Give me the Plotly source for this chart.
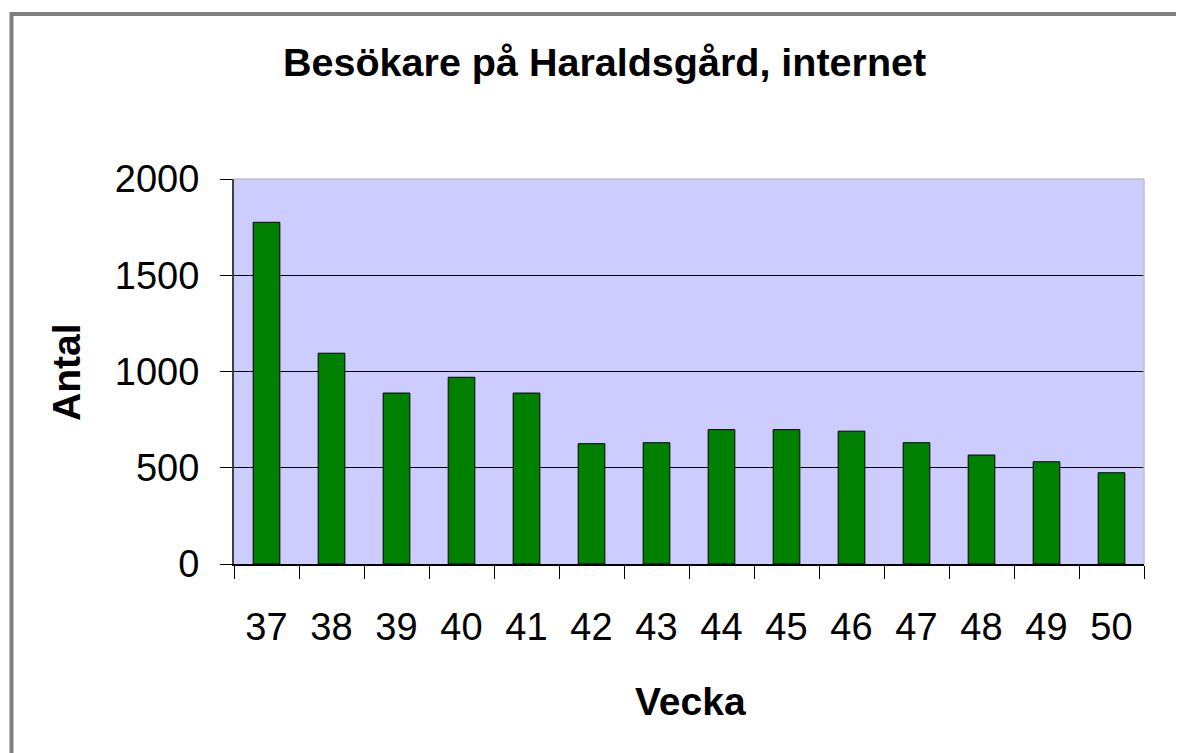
import plotly.graph_objects as go

weeks = ["37", "38", "39", "40", "41", "42", "43", "44", "45", "46", "47", "48", "49", "50"]
visitors = [1775, 1095, 888, 970, 888, 625, 630, 698, 698, 690, 630, 566, 531, 474]

title_text = "Besökare på Haraldsgård, internet"
x_title = "Vecka"
y_title = "Antal"

# page offset from default body margin
OFF = 8
W, H = 1184 - OFF, 753 - OFF
# plot area in page pixels
L, R, T, B = 234, 1144, 179, 564


def px(x):
    return (x - L) / (R - L)


def py(y):
    return (B - y) / (B - T)


FONT = "Liberation Sans, Arial, sans-serif"

fig = go.Figure()
fig.add_trace(go.Bar(
    x=weeks, y=visitors,
    marker=dict(color="#008000", line=dict(color="black", width=1)),
    showlegend=False,
))

fig.update_layout(
    width=W, height=H,
    margin=dict(l=L - OFF, r=W - (R - OFF), t=T - OFF, b=H - (B - OFF), pad=0),
    paper_bgcolor="white",
    plot_bgcolor="#CCCCFF",
    bargap=0.59,
    font=dict(family=FONT, color="black", size=38),
    xaxis=dict(
        type="category",
        tickson="boundaries",
        ticks="outside", ticklen=13, tickwidth=1, tickcolor="black",
        showline=True, linecolor="black", linewidth=1.5,
        showgrid=False,
        tickfont=dict(family=FONT, size=38, color="black"),
        ticklabelstandoff=29,
    ),
    yaxis=dict(
        range=[0, 2000], dtick=500, tick0=0,
        ticks="outside", ticklen=12, tickwidth=1, tickcolor="black",
        showline=True, linecolor="#404040", linewidth=2,
        showgrid=True, gridcolor="black", gridwidth=1,
        zeroline=False,
        tickfont=dict(family=FONT, size=38, color="black"),
        ticklabelstandoff=13,
    ),
    shapes=[
        dict(type="line", xref="paper", yref="paper", x0=0, x1=1, y0=1, y1=1,
             line=dict(color="#C0C0C0", width=1.5), layer="above"),
        dict(type="line", xref="paper", yref="paper", x0=1, x1=1, y0=0, y1=1,
             line=dict(color="#C0C0C0", width=1.5), layer="above"),
        dict(type="rect", xref="paper", yref="paper",
             x0=px(11.5), x1=px(1300), y0=py(14), y1=py(900),
             line=dict(color="#808080", width=4), layer="above"),
    ],
    annotations=[
        dict(text="<b>" + title_text + "</b>", xref="paper", yref="paper",
             x=px(604), y=py(62), xanchor="center", yanchor="middle",
             showarrow=False, font=dict(family=FONT, size=39.5, color="black")),
        dict(text="<b>" + x_title + "</b>", xref="paper", yref="paper",
             x=px(690), y=py(701), xanchor="center", yanchor="middle",
             showarrow=False, font=dict(family=FONT, size=39, color="black")),
        dict(text="<b>" + y_title + "</b>", xref="paper", yref="paper",
             x=px(66), y=py(372), xanchor="center", yanchor="middle",
             textangle=-90,
             showarrow=False, font=dict(family=FONT, size=39, color="black")),
    ],
)

fig.write_html("out.html")
